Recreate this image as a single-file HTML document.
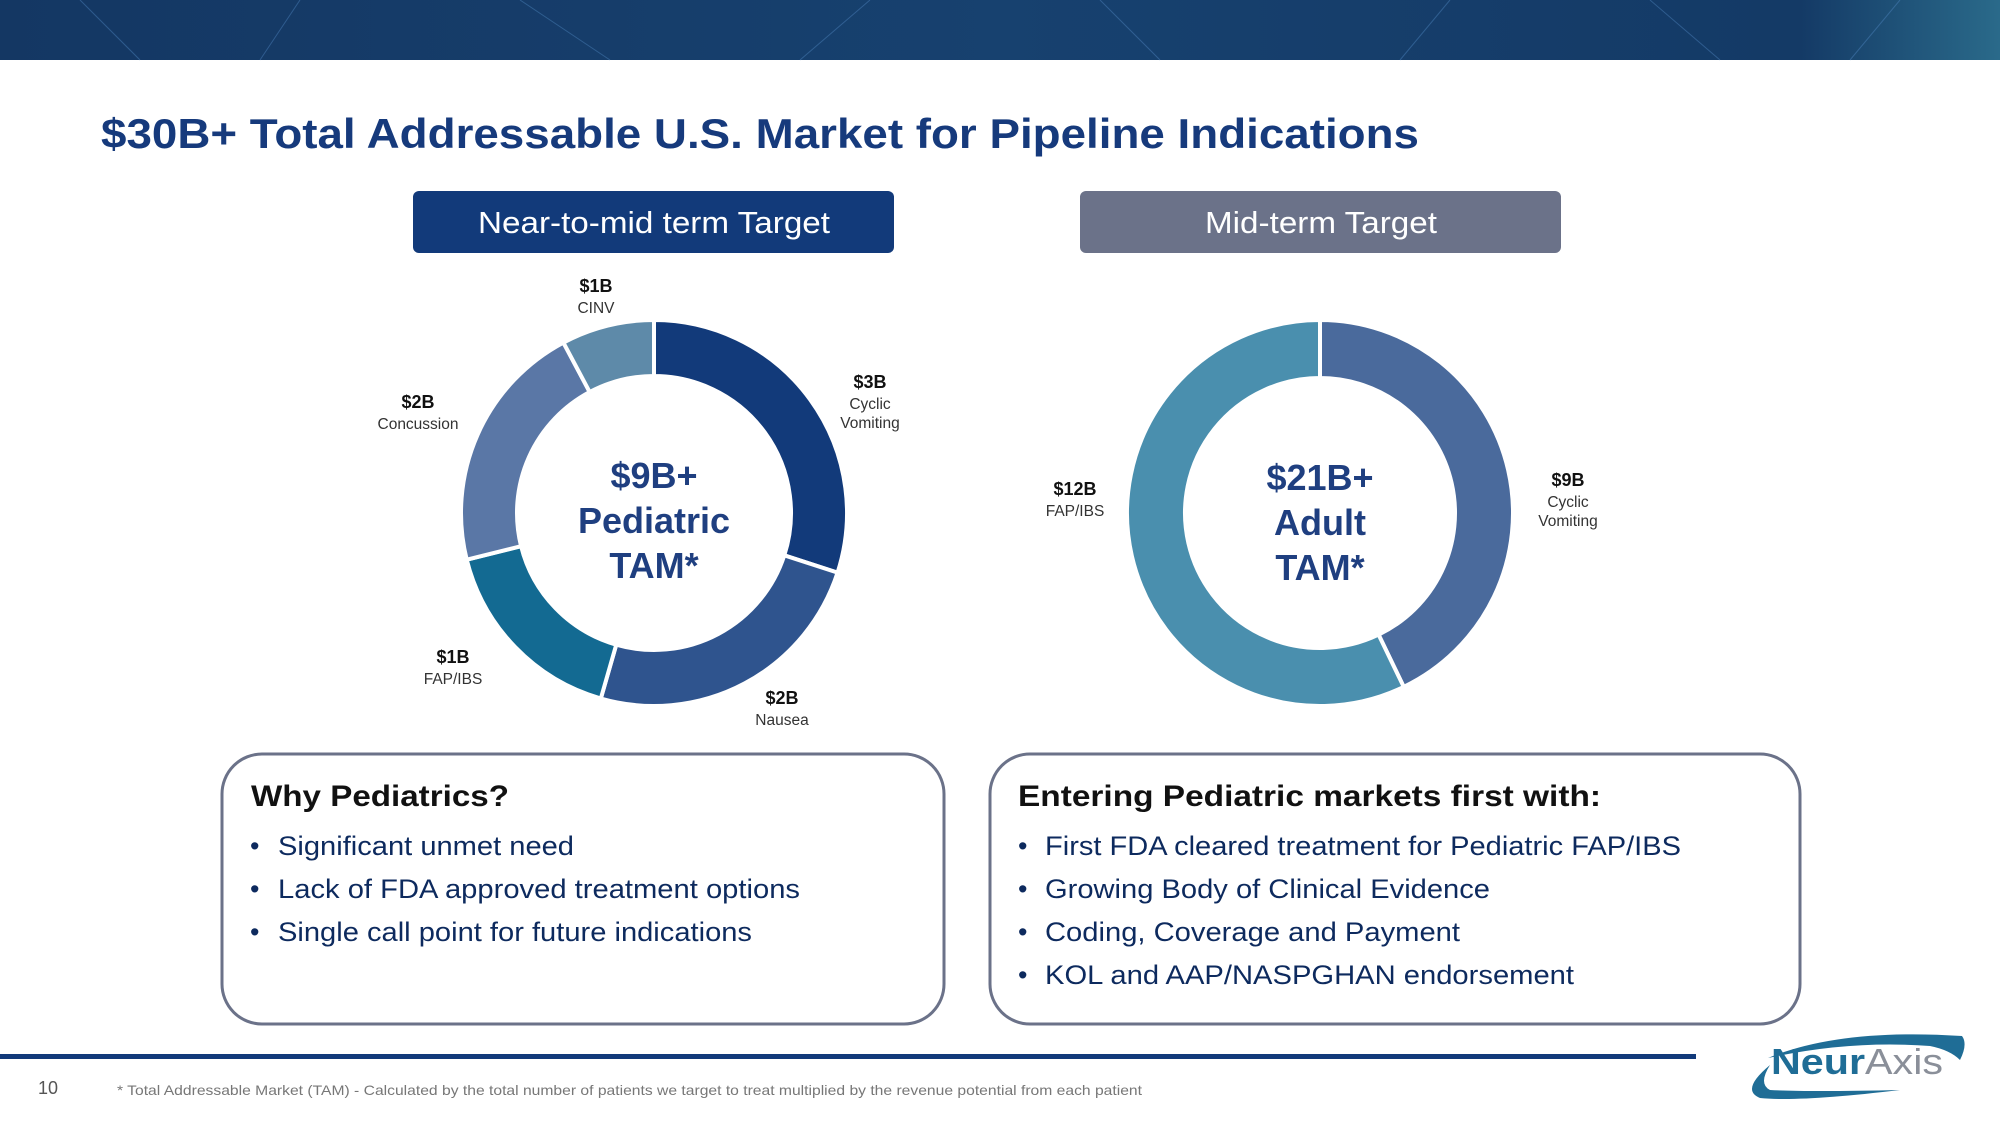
<!DOCTYPE html>
<html><head><meta charset="utf-8"><style>
html,body{margin:0;padding:0;background:#fff}
svg{display:block}
text{font-family:"Liberation Sans",Arial,sans-serif}
</style></head><body>
<svg id="s" width="2000" height="1125" viewBox="0 0 2000 1125" xmlns="http://www.w3.org/2000/svg">
<defs>
<linearGradient id="hdr" x1="0" y1="0" x2="1" y2="0">
<stop offset="0" stop-color="#143763"/><stop offset="0.5" stop-color="#17416f"/><stop offset="0.9" stop-color="#143a66"/><stop offset="1" stop-color="#2a6a8a"/>
</linearGradient>
</defs>
<rect x="0" y="0" width="2000" height="60" fill="url(#hdr)"/>
<g stroke="#4f86c0" stroke-width="1" opacity="0.45">
<line x1="80" y1="0" x2="140" y2="60"/><line x1="300" y1="0" x2="260" y2="60"/><line x1="520" y1="0" x2="610" y2="60"/><line x1="800" y1="60" x2="870" y2="0"/><line x1="1100" y1="0" x2="1160" y2="60"/><line x1="1400" y1="60" x2="1450" y2="0"/><line x1="1650" y1="0" x2="1720" y2="60"/><line x1="1850" y1="60" x2="1900" y2="0"/>
</g>
<text x="101" y="148" font-size="42" font-weight="bold" fill="#163a7c" textLength="1318" lengthAdjust="spacingAndGlyphs">$30B+ Total Addressable U.S. Market for Pipeline Indications</text>

<rect x="413" y="191" width="481" height="62" rx="6" fill="#123a7a"/>
<text x="478" y="233" font-size="31" fill="#fff" textLength="352" lengthAdjust="spacingAndGlyphs">Near-to-mid term Target</text>
<rect x="1080" y="191" width="481" height="62" rx="6" fill="#6b7289"/>
<text x="1205" y="233" font-size="31" fill="#fff" textLength="232" lengthAdjust="spacingAndGlyphs">Mid-term Target</text>

<g id="donut1"></g>
<g id="donut2"></g>

<g font-size="36" font-weight="bold" fill="#1f3f80" text-anchor="middle">
<text x="654" y="488">$9B+</text><text x="654" y="533">Pediatric</text><text x="654" y="578">TAM*</text>
</g>
<g font-size="36" font-weight="bold" fill="#1f3f80" text-anchor="middle">
<text x="1320" y="490">$21B+</text><text x="1320" y="535">Adult</text><text x="1320" y="580">TAM*</text>
</g>

<rect x="222" y="754" width="722" height="270" rx="40" fill="#fff" stroke="#6b7289" stroke-width="3"/>
<text x="251" y="806" font-size="30" font-weight="bold" fill="#111" textLength="258" lengthAdjust="spacingAndGlyphs">Why Pediatrics?</text>
<g font-size="27" fill="#0d2a5e">
<text x="250" y="855">•</text><text x="278" y="855" textLength="296" lengthAdjust="spacingAndGlyphs">Significant unmet need</text>
<text x="250" y="898">•</text><text x="278" y="898" textLength="522" lengthAdjust="spacingAndGlyphs">Lack of FDA approved treatment options</text>
<text x="250" y="941">•</text><text x="278" y="941" textLength="474" lengthAdjust="spacingAndGlyphs">Single call point for future indications</text>
</g>
<rect x="990" y="754" width="810" height="270" rx="40" fill="#fff" stroke="#6b7289" stroke-width="3"/>
<text x="1018" y="806" font-size="30" font-weight="bold" fill="#111" textLength="583" lengthAdjust="spacingAndGlyphs">Entering Pediatric markets first with:</text>
<g font-size="27" fill="#0d2a5e">
<text x="1018" y="855">•</text><text x="1045" y="855" textLength="636" lengthAdjust="spacingAndGlyphs">First FDA cleared treatment for Pediatric FAP/IBS</text>
<text x="1018" y="898">•</text><text x="1045" y="898" textLength="445" lengthAdjust="spacingAndGlyphs">Growing Body of Clinical Evidence</text>
<text x="1018" y="941">•</text><text x="1045" y="941" textLength="415" lengthAdjust="spacingAndGlyphs">Coding, Coverage and Payment</text>
<text x="1018" y="984">•</text><text x="1045" y="984" textLength="529" lengthAdjust="spacingAndGlyphs">KOL and AAP/NASPGHAN endorsement</text>
</g>

<rect x="0" y="1054" width="1696" height="5" fill="#123a7a"/>
<text x="38" y="1094" font-size="18" fill="#555">10</text>
<text x="117" y="1095" font-size="14" fill="#777" textLength="1025" lengthAdjust="spacingAndGlyphs">* Total Addressable Market (TAM) - Calculated by the total number of patients we target to treat multiplied by the revenue potential from each patient</text>
<g>
<path d="M1768 1058 Q1840 1028 1962 1036 Q1968 1044 1960 1060 Q1950 1050 1930 1046 Q1850 1040 1768 1058 Z" fill="#1f6d96"/>
<path d="M1770 1065 Q1740 1090 1760 1098 Q1800 1102 1900 1090 Q1810 1092 1770 1090 Q1758 1084 1770 1065 Z" fill="#1f6d96"/>
<text x="1771" y="1074" font-size="36" font-weight="bold" fill="#1f6d96" textLength="172" lengthAdjust="spacingAndGlyphs">Neur<tspan fill="#8a8f99" font-weight="normal">Axis</tspan></text>
</g>
</svg>
<script>
const NS="http://www.w3.org/2000/svg";
// Pediatric donut data (billions, estimated from arc sizes)
const pedCategories=["Cyclic Vomiting","Nausea","FAP/IBS","Concussion","CINV"];
const pedValues=[2.7,2.2,1.5,1.9,0.7];
const pedLabels=["$3B","$2B","$1B","$2B","$1B"];
const pedColors=["#123a7a","#2f548e","#136a92","#5a77a6","#5e8aa9"];
// Adult donut data
const adultCategories=["Cyclic Vomiting","FAP/IBS"];
const adultValues=[9,12];
const adultLabels=["$9B","$12B"];
const adultColors=["#4a6a9c","#4a8fae"];

function pt(cx,cy,r,a){return [cx+r*Math.sin(a),cy-r*Math.cos(a)];}
function drawDonut(gid,vals,colors,cats,cx,cy,ro,ri){
  const g=document.getElementById(gid);
  const tot=vals.reduce((a,b)=>a+b,0);
  let a0=0;
  vals.forEach((v,i)=>{
    const a1=a0+v/tot*2*Math.PI;
    const big=(a1-a0)>Math.PI?1:0;
    const p1=pt(cx,cy,ro,a0),p2=pt(cx,cy,ro,a1),p3=pt(cx,cy,ri,a1),p4=pt(cx,cy,ri,a0);
    const p=document.createElementNS(NS,"path");
    p.setAttribute("d",`M${p1} A${ro},${ro} 0 ${big} 1 ${p2} L${p3} A${ri},${ri} 0 ${big} 0 ${p4} Z`);
    p.setAttribute("fill",colors[i]);
    p.setAttribute("stroke","#fff");
    p.setAttribute("stroke-width","4");
    
    
    g.appendChild(p);
    a0=a1;
  });
}
drawDonut("donut1",pedValues,pedColors,pedCategories,654,513,193,137);
drawDonut("donut2",adultValues,adultColors,adultCategories,1320,513,193,135);

function label(x,y,val,lines){
  const s=document.getElementById("s");
  const t=document.createElementNS(NS,"text");
  t.setAttribute("x",x);t.setAttribute("y",y);
  t.setAttribute("font-size","18");t.setAttribute("font-weight","bold");
  t.setAttribute("text-anchor","middle");t.setAttribute("fill","#111");
  t.textContent=val;
  
  
  s.appendChild(t);
  lines.forEach((l,k)=>{
    const u=document.createElementNS(NS,"text");
    u.setAttribute("x",x);u.setAttribute("y",y+21+k*19);
    u.setAttribute("font-size","15.5");u.setAttribute("text-anchor","middle");u.setAttribute("fill","#333");
    u.textContent=l;
    
    
    s.appendChild(u);
  });
}
label(870,388,pedLabels[0],["Cyclic","Vomiting"]);
label(782,704,pedLabels[1],["Nausea"]);
label(453,663,pedLabels[2],["FAP/IBS"]);
label(418,408,pedLabels[3],["Concussion"]);
label(596,292,pedLabels[4],["CINV"]);
label(1568,486,adultLabels[0],["Cyclic","Vomiting"]);
label(1075,495,adultLabels[1],["FAP/IBS"]);
</script>
</body></html>
